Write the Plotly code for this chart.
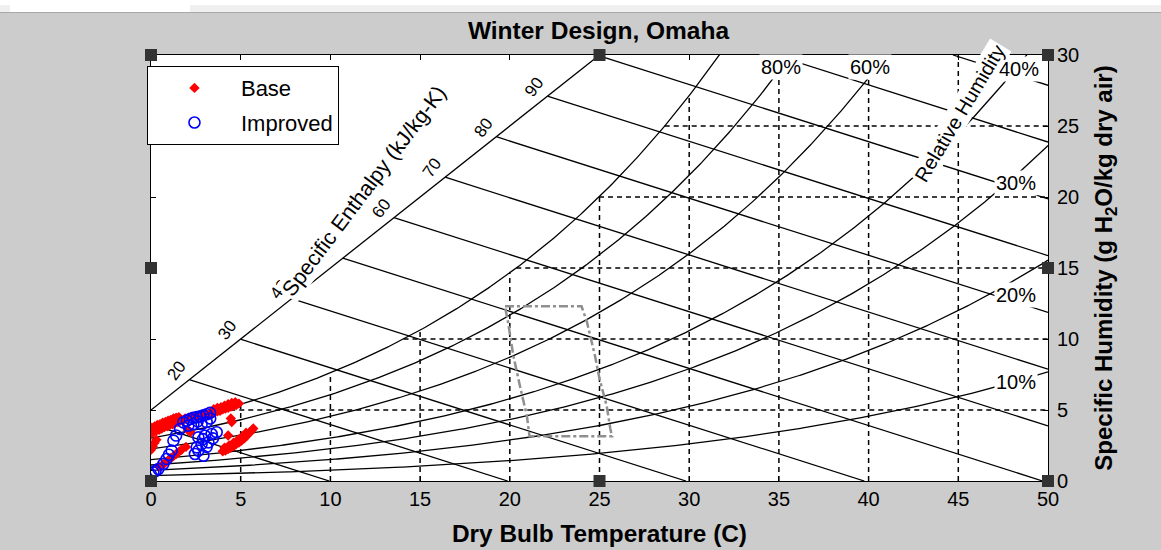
import numpy as np
import plotly.graph_objects as go

# ---------------- data ----------------
t_ticks = [0, 5, 10, 15, 20, 25, 30, 35, 40, 45, 50]
w_ticks = [0, 5, 10, 15, 20, 25, 30]

rh_levels = [10, 20, 30, 40, 60, 80, 100]
rh_label_text = ["10%", "20%", "30%", "40%", "60%", "80%"]
rh_label_T = [48.2, 48.2, 48.2, 48.4, 40.1, 35.1]
rh_label_w = [7.0, 13.1, 21.0, 29.0, 29.15, 29.15]

enthalpy_levels = [10, 20, 30, 40, 50, 60, 70, 80, 90, 100, 110, 120]
enthalpy_labels = [20, 30, 40, 50, 60, 70, 80, 90]

base_T = [0.0, 0.15, 0.3, 0.45, 0.6, 0.75, 0.9, 1.05, 1.2, 1.35, 1.5, 1.65, 1.8,
          0.05, 0.2, 0.35, 0.5, 0.65, 0.8, 0.95, 1.1, 1.25, 1.4, 1.55,
          1.9, 2.1, 2.3, 2.5, 2.7, 2.9, 3.1, 3.3,
          3.4, 3.55, 3.7, 3.85, 4.0, 4.15, 4.3, 4.45, 4.6, 4.75, 4.9,
          3.5, 3.7, 3.9, 4.1, 4.3, 4.5, 4.7,
          0.0, 0.1, 0.2, 0.3,
          0.5, 0.65, 0.8, 0.95, 1.1, 1.25, 1.4, 1.55, 1.7,
          2.2, 2.05, 1.95, 4.3, 4.45, 4.5,
          4.0, 4.15, 4.3, 4.45, 4.6, 4.75, 4.9, 5.05, 5.2, 5.35, 5.5, 5.6, 5.7,
          4.1, 4.35, 4.6, 4.85, 5.1, 5.3]
base_w = [3.35, 3.45, 3.55, 3.6, 3.7, 3.8, 3.85, 3.95, 4.0, 4.1, 4.15, 4.25, 4.3,
          3.75, 3.85, 3.95, 4.0, 4.1, 4.15, 4.25, 4.3, 4.4, 4.45, 4.5,
          4.4, 4.45, 4.5, 4.55, 4.6, 4.65, 4.7, 4.75,
          4.75, 4.85, 4.9, 4.95, 5.05, 5.1, 5.15, 5.25, 5.3, 5.35, 5.45,
          5.05, 5.15, 5.2, 5.3, 5.4, 5.5, 5.55,
          2.2, 2.45, 2.7, 2.9,
          1.0, 1.15, 1.3, 1.45, 1.6, 1.75, 1.9, 2.05, 2.2,
          3.45, 3.6, 2.4, 3.2, 4.4, 4.15,
          2.1, 2.15, 2.25, 2.35, 2.45, 2.6, 2.7, 2.85, 3.0, 3.2, 3.4, 3.55, 3.7,
          2.35, 2.5, 2.7, 2.9, 3.15, 3.4]

impr_T = [1.8, 2.0, 2.17, 2.35, 2.55, 2.75, 2.92, 3.1, 3.29, 3.1, 2.82, 2.36, 2.08, 2.6, 3.3,
          1.62, 1.25, 1.15, 0.87, 0.69, 0.41, 0.13, 0.0, 1.4, 1.0, 0.25,
          2.64, 3.01, 3.38, 3.66, 2.82, 3.2, 2.64, 2.92, 2.45, 2.55, 3.45, 2.9, 3.1]
impr_w = [4.13, 4.25, 4.37, 4.45, 4.5, 4.55, 4.62, 4.7, 4.8, 4.15, 4.0, 4.0, 3.9, 4.2, 4.4,
          3.66, 2.84, 2.14, 1.55, 1.2, 0.85, 0.61, 0.45, 3.2, 1.85, 0.7,
          3.07, 3.19, 3.31, 3.43, 2.6, 2.72, 2.14, 1.78, 1.9, 2.37, 3.0, 2.95, 2.4]

comfort_T = [19.73, 24.0, 24.3, 24.75, 25.0, 25.4, 25.6, 25.7, 21.1, 20.95, 20.6, 20.2, 19.9, 19.73]
comfort_w = [12.3, 12.3, 11.2, 8.8, 7.2, 5.3, 3.7, 3.15, 3.15, 4.6, 6.5, 8.8, 11.2, 12.3]

# ---------------- psychrometrics ----------------
P_ATM = 101.325
T_MAX, W_MAX = 50.0, 30.0


def p_ws(T):
    return 0.61094 * np.exp(17.625 * T / (T + 243.04))


def w_of_rh(T, rh):
    pw = rh / 100.0 * p_ws(T)
    return 622.0 * pw / (P_ATM - pw)


def t_sat(w):
    pw = w * P_ATM / (622.0 + w)
    a = np.log(pw / 0.61094)
    return 243.04 * a / (17.625 - a)


def w_of_h(T, h):
    return (h - 1.006 * T) / 2.501


# enthalpy scale line: w = T + 5
DIAG_OFF = 5.0

FONT = "Liberation Sans, Arial, sans-serif"
fig = go.Figure()

# dashed grid, kept below the saturation curve
gx, gy = [], []
for t in t_ticks[1:-1]:
    gx += [t, t, None]
    gy += [0, min(float(w_of_rh(t, 100)), W_MAX), None]
for w in w_ticks[1:-1]:
    gx += [float(t_sat(w)), T_MAX, None]
    gy += [w, w, None]
fig.add_trace(go.Scatter(x=gx, y=gy, mode="lines", showlegend=False, hoverinfo="skip",
                         line=dict(color="black", width=1.5, dash="5px,4px")))

# relative humidity curves
Tc = np.linspace(0, T_MAX, 400)
for rh in rh_levels:
    fig.add_trace(go.Scatter(x=Tc, y=w_of_rh(Tc, rh), mode="lines", showlegend=False,
                             hoverinfo="skip", line=dict(color="black", width=1.3)))

# enthalpy scale line
fig.add_trace(go.Scatter(x=[0, W_MAX - DIAG_OFF], y=[DIAG_OFF, W_MAX], mode="lines",
                         showlegend=False, hoverinfo="skip",
                         line=dict(color="black", width=1.3)))

# constant enthalpy lines
h_start = {}
for h in enthalpy_levels:
    t0 = (h - 2.501 * DIAG_OFF) / (1.006 + 2.501)
    t0 = max(t0, 0.0)
    if w_of_h(t0, h) > W_MAX:
        t0 = (h - 2.501 * W_MAX) / 1.006
    t1 = min(h / 1.006, T_MAX)
    h_start[h] = (t0, float(w_of_h(t0, h)))
    fig.add_trace(go.Scatter(x=[t0, t1], y=[w_of_h(t0, h), w_of_h(t1, h)], mode="lines",
                             showlegend=False, hoverinfo="skip",
                             line=dict(color="black", width=1.3)))

# comfort zone
fig.add_trace(go.Scatter(x=comfort_T, y=comfort_w, mode="lines", showlegend=False,
                         hoverinfo="skip",
                         line=dict(color="#8f8f8f", width=2.5, dash="dashdot")))

# measured states
fig.add_trace(go.Scatter(x=base_T, y=base_w, mode="markers", name="Base", legendgroup="a",
                         marker=dict(symbol="diamond", size=8, color="red",
                                     line=dict(width=0))))
fig.add_trace(go.Scatter(x=impr_T, y=impr_w, mode="markers", name="Improved", legendgroup="b",
                         marker=dict(symbol="circle-open", size=11, color="blue",
                                     line=dict(width=1.6, color="blue"))))

annotations = []
for h in enthalpy_labels:
    t0, w0 = h_start[h]
    annotations.append(dict(x=t0 - 0.7, y=w0 + 0.65, text=str(h), showarrow=False,
                            textangle=-54, font=dict(size=17, color="black", family=FONT)))
annotations.append(dict(x=11.9, y=20.4, text="Specific Enthalpy (kJ/kg-K)", showarrow=False,
                        textangle=-53, bgcolor="white",
                        font=dict(size=21.5, color="black", family=FONT)))
for txt, t, w in zip(rh_label_text, rh_label_T, rh_label_w):
    annotations.append(dict(x=t, y=w, text=txt, showarrow=False, bgcolor="white",
                            font=dict(size=20, color="black", family=FONT)))
annotations.append(dict(x=45.1, y=25.9, text="Relative Humidity", showarrow=False,
                        textangle=-59, bgcolor="white",
                        font=dict(size=20, color="black", family=FONT)))

# window strip along the top edge
PX, PY = 1 / 897, 1 / 426
TOP = 1 + 55 * PY
shapes = [
    dict(type="rect", xref="paper", yref="paper", x0=-151 * PX, x1=1 + 113 * PX,
         y0=TOP - 12 * PY, y1=TOP, fillcolor="#f0f0f0", line=dict(width=0), layer="below"),
    dict(type="rect", xref="paper", yref="paper", x0=-151 * PX, x1=1 + 113 * PX,
         y0=TOP - 5 * PY, y1=TOP, fillcolor="white", line=dict(width=0), layer="below"),
    dict(type="rect", xref="paper", yref="paper", x0=-141 * PX, x1=39 * PX,
         y0=TOP - 12 * PY, y1=TOP, fillcolor="white", line=dict(width=0), layer="below"),
    dict(type="line", xref="paper", yref="paper", x0=-151 * PX, x1=1 + 113 * PX,
         y0=TOP - 12.5 * PY, y1=TOP - 12.5 * PY, line=dict(color="#a8a8a8", width=1),
         layer="below"),
]
# selection handles around the axes
for px, py in [(0, 0), (0.5, 0), (1, 0), (0, 0.5), (1, 0.5), (0, 1), (0.5, 1), (1, 1)]:
    shapes.append(dict(type="rect", xref="paper", yref="paper",
                       x0=px - 6 * PX, x1=px + 6 * PX, y0=py - 6 * PY, y1=py + 6 * PY,
                       fillcolor="#333333", line=dict(width=0), layer="above"))

axis_common = dict(showgrid=False, zeroline=False, showline=True, linecolor="black",
                   linewidth=1, mirror="ticks", ticks="inside", ticklen=5,
                   tickcolor="black", tickfont=dict(size=20, color="black", family=FONT))

fig.update_layout(
    width=1161, height=550,
    margin=dict(l=151, r=113, t=55, b=69, autoexpand=False),
    paper_bgcolor="#cccccc", plot_bgcolor="white",
    title=dict(text="<b>Winter Design, Omaha</b>", x=0.5155, xanchor="center",
               y=1 - 30 / 550, yanchor="middle",
               font=dict(size=24.5, color="black", family=FONT)),
    xaxis=dict(range=[0, T_MAX], tickvals=t_ticks,
               title=dict(text="<b>Dry Bulb Temperature (C)</b>", standoff=15,
                          font=dict(size=24.4, color="black", family=FONT)),
               **axis_common),
    yaxis=dict(range=[0, W_MAX], tickvals=w_ticks, side="right", ticklabelstandoff=4,
               title=dict(text="<b>Specific Humidity (g H<sub>2</sub>O/kg dry air)</b>",
                          standoff=16, font=dict(size=24, color="black", family=FONT)),
               **axis_common),
    legend=dict(x=-0.0045, y=0.974, xanchor="left", yanchor="top", bgcolor="white",
                bordercolor="black", borderwidth=1, itemwidth=83, tracegroupgap=3,
                entrywidth=112, entrywidthmode="pixels",
                font=dict(size=22, color="black", family=FONT)),
    annotations=annotations,
    shapes=shapes,
)

fig.write_html("out.html")
